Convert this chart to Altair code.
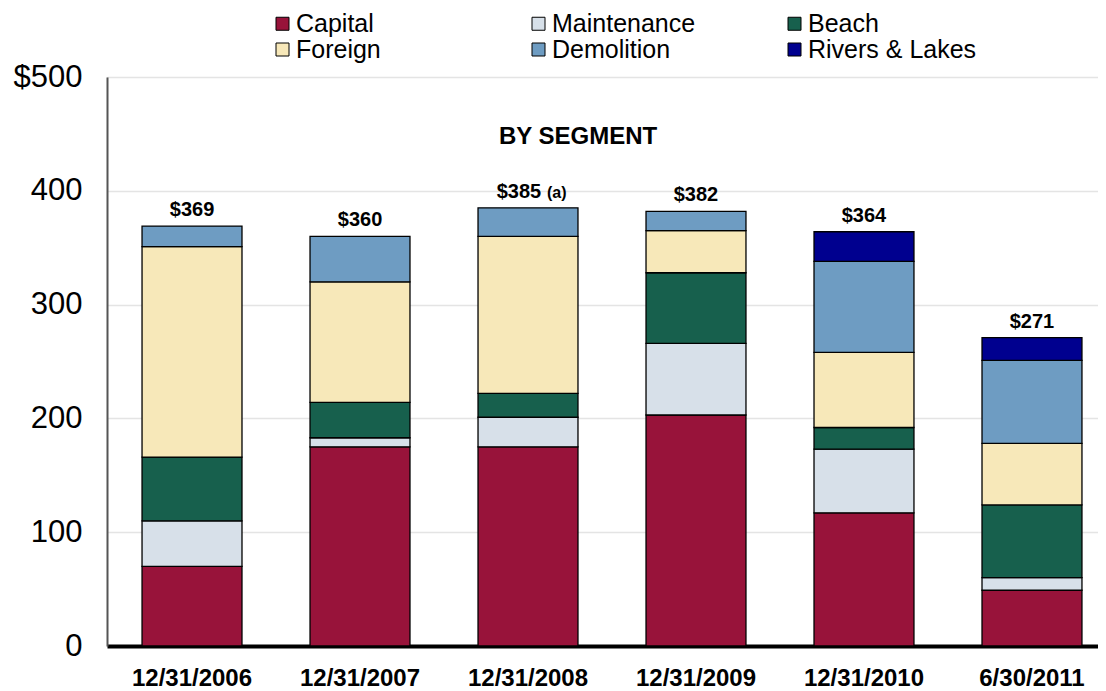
import altair as alt
import pandas as pd

dates = ["12/31/2006", "12/31/2007", "12/31/2008", "12/31/2009", "12/31/2010", "6/30/2011"]
segments = ["Capital", "Maintenance", "Beach", "Foreign", "Demolition", "Rivers & Lakes"]
colors = ["#98133A", "#D7E0E9", "#17604D", "#F7E8B9", "#6E9CC2", "#00008F"]

capital = [70, 175, 175, 203, 117, 49]
maintenance = [40, 8, 26, 63, 56, 11]
beach = [56, 31, 21, 62, 19, 64]
foreign = [185, 106, 138, 37, 66, 54]
demolition = [18, 40, 25, 17, 80, 73]
rivers = [0, 0, 0, 0, 26, 20]

totals = [369, 360, 385, 382, 364, 271]
total_labels = ["$369", "$360", "$385", "$382", "$364", "$271"]
notes = ["", "", "(a)", "", "", ""]

series = [capital, maintenance, beach, foreign, demolition, rivers]
rows = []
for si, (seg, vals) in enumerate(zip(segments, series)):
    for d, v in zip(dates, vals):
        if v > 0:
            rows.append({"date": d, "segment": seg, "value": v, "idx": si})
df = pd.DataFrame(rows)

tot_df = pd.DataFrame({"date": dates, "total": totals, "label": total_labels, "note": notes})
title_df = pd.DataFrame({"t": ["BY SEGMENT"]})

FONT = "Liberation Sans"

x_enc = alt.X(
    "date:N", sort=dates, title=None,
    scale=alt.Scale(paddingInner=0.405, paddingOuter=0.152, align=0.686),
    axis=alt.Axis(labelAngle=0, labelFont=FONT, labelFontSize=24, labelFontWeight="bold",
                  labelColor="black", labelPadding=20, ticks=False, domainColor="black",
                  domainWidth=4, grid=False),
)

y_axis = alt.Axis(values=[0, 100, 200, 300, 400, 500],
                  labelExpr="datum.value == 500 ? '$500' : datum.label",
                  labelFont=FONT, labelFontSize=31, labelColor="black", labelPadding=25,
                  ticks=False, domainColor="#555555", domainWidth=2,
                  gridColor="#E4E4E4", gridWidth=1.5, title=None)
y_scale = alt.Scale(domain=[0, 500], nice=False)

bars = alt.Chart(df).mark_bar(stroke="black", strokeWidth=1.3).encode(
    x=x_enc,
    y=alt.Y("value:Q", stack="zero", scale=y_scale, axis=y_axis),
    color=alt.Color("segment:N", sort=segments,
                    scale=alt.Scale(domain=segments, range=colors),
                    legend=alt.Legend(orient="none", legendX=163, legendY=-66, columns=3,
                                      direction="horizontal",
                                      gridAlign="all", columnPadding=61, rowPadding=-7,
                                      symbolType="square", symbolSize=169,
                                      symbolStrokeColor="black", symbolStrokeWidth=1,
                                      symbolOpacity=1, labelFont=FONT, labelFontSize=25,
                                      labelColor="black", labelOffset=1, labelLimit=400,
                                      title=None, padding=0)),
    order=alt.Order("idx:Q", sort="ascending"),
)

txt_plain = alt.Chart(tot_df).transform_filter("datum.note == ''").mark_text(
    font=FONT, fontSize=20, fontWeight="bold", color="black", baseline="alphabetic", dy=-10
).encode(x=x_enc, y=alt.Y("total:Q", scale=y_scale, axis=y_axis), text="label:N")

txt_noted = alt.Chart(tot_df).transform_filter("datum.note != ''").mark_text(
    font=FONT, fontSize=20, fontWeight="bold", color="black", baseline="alphabetic", dy=-10, dx=-9
).encode(x=x_enc, y=alt.Y("total:Q", scale=y_scale, axis=y_axis), text="label:N")

txt_note = alt.Chart(tot_df).transform_filter("datum.note != ''").mark_text(
    font=FONT, fontSize=16, fontWeight="bold", color="black", baseline="alphabetic",
    align="left", dy=-10, dx=19
).encode(x=x_enc, y=alt.Y("total:Q", scale=y_scale, axis=y_axis), text="note:N")

title_txt = alt.Chart(title_df).mark_text(
    font=FONT, fontSize=24, fontWeight="bold", color="black", baseline="alphabetic", align="center"
).encode(x=alt.value(471), y=alt.value(67), text="t:N")

chart = alt.layer(bars, txt_plain, txt_noted, txt_note, title_txt).properties(
    width=991, height=569,
    autosize=alt.AutoSizeParams(type="none"),
    padding={"left": 99, "top": 69, "right": 0, "bottom": 44},
).configure_view(stroke=None).configure(background="white")

chart.save("out.html", embed_options={"renderer": "svg", "actions": False})
